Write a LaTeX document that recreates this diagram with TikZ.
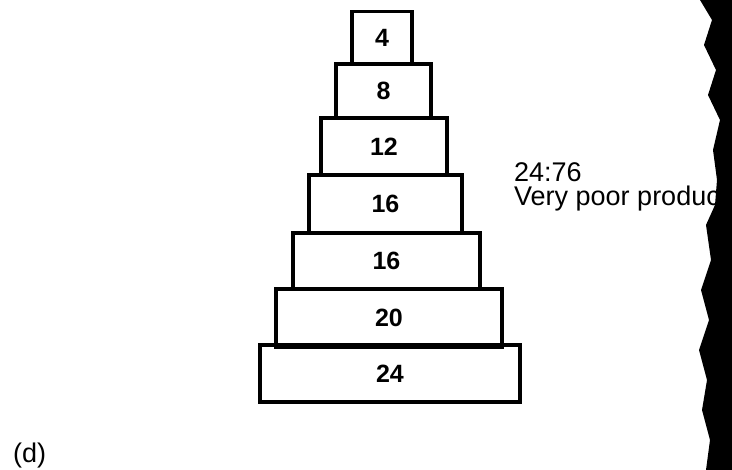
\documentclass[tikz,border=0pt]{standalone}
\usepackage{fontspec}
\setmainfont{Liberation Sans}
\usepackage{tikz}
\usetikzlibrary{positioning}
\tikzset{
    tier/.style={
        draw=black,
        line width=3.2pt,
        rectangle,
        inner sep=0pt,
        font=\fontsize{25}{28}\selectfont\bfseries
    },
    ratiolabel/.style={
        anchor=base west,
        inner sep=0pt,
        align=left,
        font=\fontsize{27}{24}\selectfont
    }
}

\begin{document}
\begin{tikzpicture}[x=1pt,y=-1pt]

    \useasboundingbox (0,0) rectangle (732,470);

    % Pyramide
    \node[tier,minimum width=60pt,minimum height=52pt]
        (t4) at (382,37.5) {4};

    \node[tier,minimum width=95pt,minimum height=54pt]
        (t8) at (383.5,91) {8};

    \node[tier,minimum width=126pt,minimum height=57pt]
        (t12) at (384,146.5) {12};

    \node[tier,minimum width=153pt,minimum height=58pt]
        (t16a) at (385.5,204) {16};

    \node[tier,minimum width=187pt,minimum height=56pt]
        (t16b) at (386.5,261) {16};

    \node[tier,minimum width=226pt,minimum height=58pt]
        (t20) at (389,318) {20};

    \node[tier,minimum width=260pt,minimum height=57pt]
        (t24) at (390,373.5) {24};

    % Rapport
    \node[ratiolabel]
        (ratio) at (514,205.5)
        {24:76\\Very poor produc};

    % Tache du scan
    \fill[black]
        (700,0) -- (712,20) -- (704,45) -- (716,70) -- (708,95)
        -- (720,120) -- (713,150) -- (717,180) -- (715,205)
        -- (706,225) -- (711,260) -- (701,290) -- (709,320)
        -- (699,350) -- (707,380) -- (702,410) -- (710,440)
        -- (706,470) -- (732,470) -- (732,0) -- cycle;

    % (d)
    \node[ratiolabel]
        (panel) at (13,463)
        {(d)};

\end{tikzpicture}
\end{document}
